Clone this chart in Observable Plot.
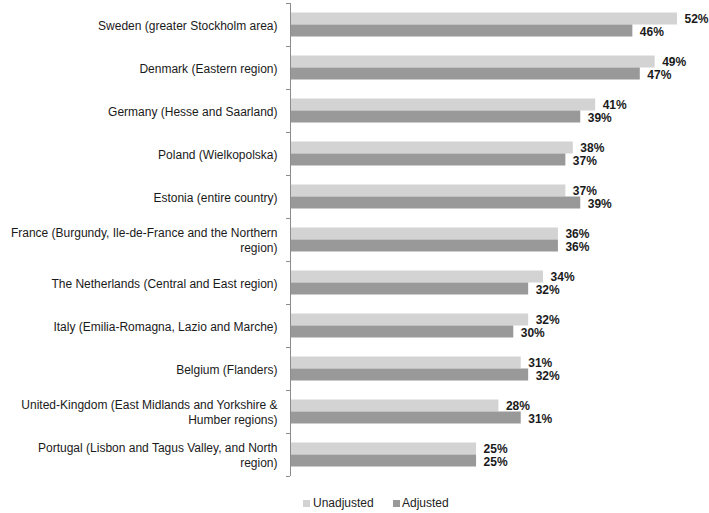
<!DOCTYPE html>
<html><head><meta charset="utf-8">
<script src="https://cdn.jsdelivr.net/npm/d3@7"></script>
<script src="https://cdn.jsdelivr.net/npm/@observablehq/plot@0.6"></script>
<style>
html,body{margin:0;padding:0;background:#fff;overflow:hidden;}
body{font-family:"Liberation Sans",Arial,sans-serif;}
#legend{position:relative;height:30px;font-size:12px;color:#222;}
.sw{position:absolute;width:7px;height:7px;top:20px;}
.lt{position:absolute;top:16px;line-height:14px;}
</style></head><body>
<div id="chart"></div>
<div id="legend"></div>
<script>
const countries = [
  "Sweden (greater Stockholm area)",
  "Denmark (Eastern region)",
  "Germany (Hesse and Saarland)",
  "Poland (Wielkopolska)",
  "Estonia (entire country)",
  "France (Burgundy, Ile-de-France and the Northern region)",
  "The Netherlands (Central and East region)",
  "Italy (Emilia-Romagna, Lazio and Marche)",
  "Belgium (Flanders)",
  "United-Kingdom (East Midlands and Yorkshire & Humber regions)",
  "Portugal (Lisbon and Tagus Valley, and North region)"
];
const tickLabels = [
  "Sweden (greater Stockholm area)",
  "Denmark (Eastern region)",
  "Germany (Hesse and Saarland)",
  "Poland (Wielkopolska)",
  "Estonia (entire country)",
  "France (Burgundy, Ile-de-France and the Northern\nregion)",
  "The Netherlands (Central and East region)",
  "Italy (Emilia-Romagna, Lazio and Marche)",
  "Belgium (Flanders)",
  "United-Kingdom (East Midlands and Yorkshire &\nHumber regions)",
  "Portugal (Lisbon and Tagus Valley, and North\nregion)"
];
const unadjusted = [52, 49, 41, 38, 37, 36, 34, 32, 31, 28, 25];
const adjusted   = [46, 47, 39, 37, 39, 36, 32, 30, 32, 31, 25];
const series = ["Unadjusted", "Adjusted"];
const colors = ["#d3d3d3", "#999999"];

const rows = countries.map((c, i) => ({country: c, label: tickLabels[i], u: unadjusted[i], a: adjusted[i]}));

const width = 709, height = 480, mTop = 3, mBottom = 4, mLeft = 290, mRight = 32;
const bw = (height - mTop - mBottom) / countries.length;
const barH = 12;
const axisColor = "#8c8c8c";

const chart = Plot.plot({
  width, height,
  marginTop: mTop, marginBottom: mBottom, marginLeft: mLeft, marginRight: mRight,
  style: {fontFamily: '"Liberation Sans", Arial, sans-serif', fontSize: "12px", background: "#fff", overflow: "visible"},
  x: {domain: [0, 52], axis: null},
  y: {domain: countries, padding: 0, axis: null},
  marks: [
    Plot.barX(rows, {x: "u", y: "country", fill: colors[0], insetTop: bw / 2 - barH, insetBottom: bw / 2}),
    Plot.barX(rows, {x: "a", y: "country", fill: colors[1], insetTop: bw / 2, insetBottom: bw / 2 - barH}),
    Plot.ruleX([0], {stroke: axisColor}),
    Plot.ruleY(rows, {y: "country", x1: 0, x2: 0, insetLeft: -4, dy: -bw / 2, stroke: axisColor}),
    Plot.ruleY(rows.slice(-1), {y: "country", x1: 0, x2: 0, insetLeft: -4, dy: bw / 2, stroke: axisColor}),
    Plot.text(rows, {y: "country", text: "label", frameAnchor: "left", textAnchor: "end", dx: -13, lineHeight: 1.17, fill: "#1a1a1a", fontSize: 12}),
    Plot.text(rows, {x: "u", y: "country", text: d => d.u + "%", textAnchor: "start", dx: 7, dy: -6, fill: "#1a1a1a", fontWeight: "bold", fontSize: 12}),
    Plot.text(rows, {x: "a", y: "country", text: d => d.a + "%", textAnchor: "start", dx: 7, dy: 7, fill: "#1a1a1a", fontWeight: "bold", fontSize: 12})
  ]
});
document.getElementById("chart").appendChild(chart);

const legend = document.getElementById("legend");
const pos = [[303, 313], [393, 402]];
series.forEach((s, i) => {
  const sw = document.createElement("div");
  sw.className = "sw"; sw.style.left = pos[i][0] + "px"; sw.style.background = colors[i];
  const t = document.createElement("div");
  t.className = "lt"; t.style.left = pos[i][1] + "px"; t.textContent = s;
  legend.appendChild(sw); legend.appendChild(t);
});
</script>
</body></html>
